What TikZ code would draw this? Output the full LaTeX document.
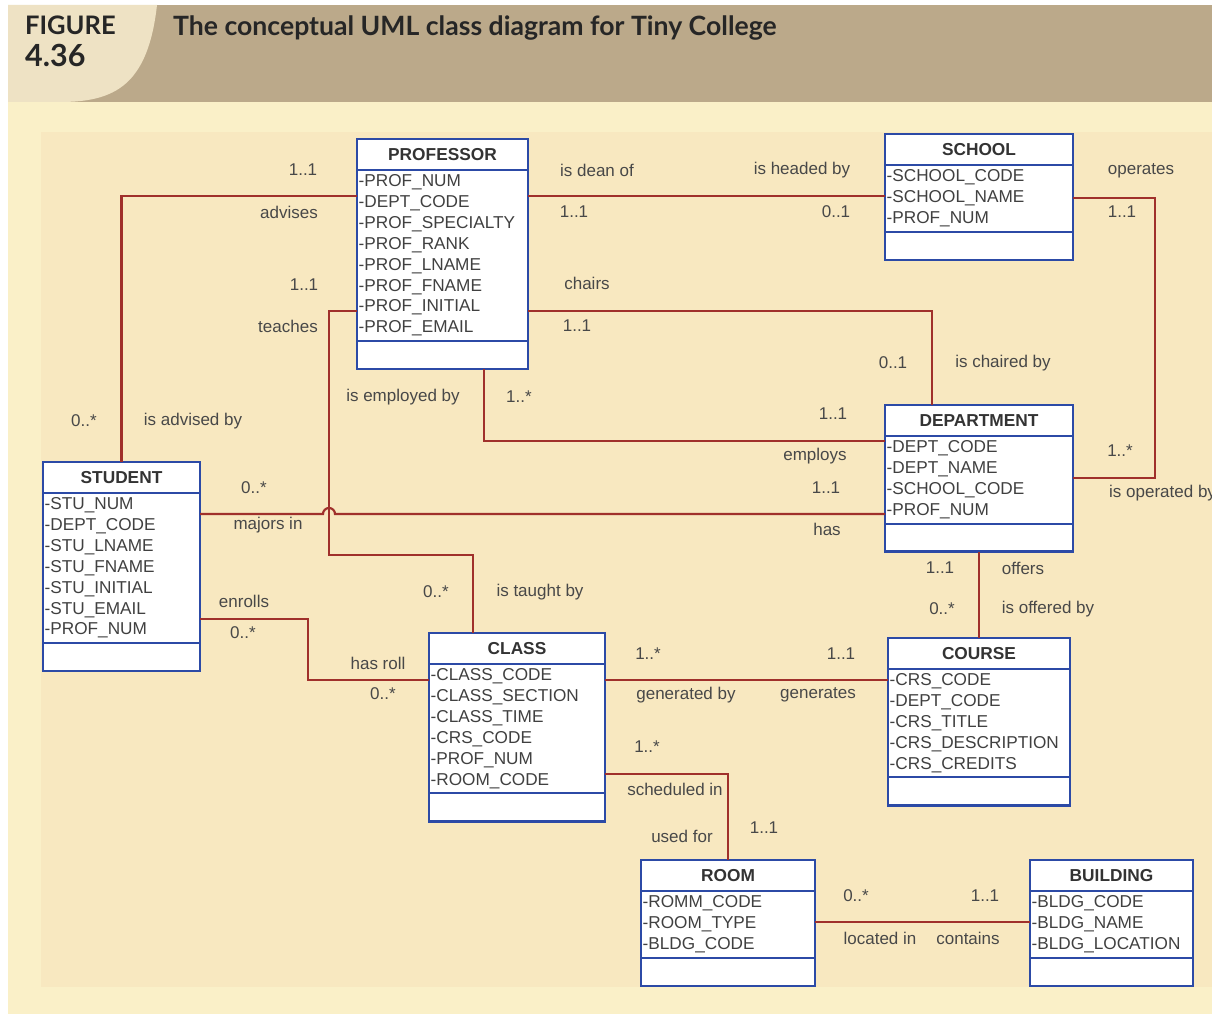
\documentclass[tikz,border=0pt]{standalone}
\usepackage{fontspec}
\setmainfont{Liberation Sans}
\newfontfamily\headfont{Lato}
\usepackage{xcolor}
\definecolor{headtan}{RGB}{187,169,138}
\definecolor{figtab}{RGB}{238,226,196}
\definecolor{pagecream}{RGB}{250,240,200}
\definecolor{panelcream}{RGB}{248,232,192}
\definecolor{linkred}{RGB}{160,48,43}
\definecolor{boxblue}{RGB}{44,74,166}
\definecolor{labelgray}{RGB}{72,72,72}

\tikzset{
  classbox/.style={draw=boxblue, line width=2.4pt, fill=white, inner sep=0pt, outer sep=0pt, anchor=north west},
  classrule/.style={draw=boxblue, line width=2pt},
  classname/.style={font=\fontsize{17.3}{19}\selectfont\bfseries, text=black!80, inner sep=0pt},
  attr/.style={font=\fontsize{17.2}{19}\selectfont, text=black!75, inner sep=0pt, anchor=west},
  link/.style={draw=linkred, line width=2.2pt},
  lbl/.style={font=\fontsize{17}{19}\selectfont, text=labelgray, inner sep=0pt},
}

% one UML class: name, corner, width, number of attributes, title, attributes
\newcommand{\umlclass}[6]{%
  \pgfmathsetmacro{\boxh}{63.14+20.86*#4}
  \pgfmathsetmacro{\attrb}{35.14+20.86*#4}
  \node[classbox, minimum width=#3pt, minimum height=\boxh pt] (#1) at (#2) {};
  \draw[classrule] ([yshift=-31pt]#1.north west) -- ([yshift=-31pt]#1.north east);
  \draw[classrule] ([yshift=-\attrb pt]#1.north west) -- ([yshift=-\attrb pt]#1.north east);
  \node[classname] (#1-name) at ([yshift=-15.5pt]#1.north) {#5};
  \foreach \a [count=\i] in {#6}
    \node[attr] (#1-\i) at ([xshift=1.5pt, yshift=-43.5pt-20.86pt*(\i-1)]#1.north west) {-\a};
}

\begin{document}
\begin{tikzpicture}[x=1pt, y=-1pt]
\useasboundingbox (0,0) rectangle (1212,1014);
\fill[white] (0,0) rectangle (1212,1014);

% page background
\fill[headtan] (8,5) rectangle (1212,102);
\fill[figtab] (8,5) -- (157,5) .. controls (148,85) and (115,102) .. (60,102) -- (8,102) -- cycle;
\fill[pagecream] (8,102) rectangle (1212,1014);
\fill[panelcream] (41,132) rectangle (1212,987);

\node[anchor=base west, inner sep=0pt, font=\headfont\bfseries\fontsize{25.5}{28}\selectfont, text=black!85] (figword) at (25,35) {FIGURE};
\node[anchor=base west, inner sep=0pt, font=\headfont\bfseries\fontsize{30.5}{32}\selectfont, text=black!85] (fignum) at (25,67) {4.36};
\node[anchor=base west, inner sep=0pt, font=\headfont\bfseries\fontsize{26.6}{28}\selectfont, text=black!85] (title) at (173,36) {The conceptual UML class diagram for Tiny College};

% classes
\umlclass{prof}{357,139}{171}{8}{PROFESSOR}{PROF\_NUM, DEPT\_CODE, PROF\_SPECIALTY, PROF\_RANK, PROF\_LNAME, PROF\_FNAME, PROF\_INITIAL, PROF\_EMAIL}
\umlclass{school}{885,134}{188}{3}{SCHOOL}{SCHOOL\_CODE, SCHOOL\_NAME, PROF\_NUM}
\umlclass{dept}{885,405}{188}{4}{DEPARTMENT}{DEPT\_CODE, DEPT\_NAME, SCHOOL\_CODE, PROF\_NUM}
\umlclass{stud}{43,462}{157}{7}{STUDENT}{STU\_NUM, DEPT\_CODE, STU\_LNAME, STU\_FNAME, STU\_INITIAL, STU\_EMAIL, PROF\_NUM}
\umlclass{class}{429,633}{176}{6}{CLASS}{CLASS\_CODE, CLASS\_SECTION, CLASS\_TIME, CRS\_CODE, PROF\_NUM, ROOM\_CODE}
\umlclass{course}{888,638}{182}{5}{COURSE}{CRS\_CODE, DEPT\_CODE, CRS\_TITLE, CRS\_DESCRIPTION, CRS\_CREDITS}
\umlclass{room}{641,860}{174}{3}{ROOM}{ROMM\_CODE, ROOM\_TYPE, BLDG\_CODE}
\umlclass{bldg}{1030,860}{163}{3}{BUILDING}{BLDG\_CODE, BLDG\_NAME, BLDG\_LOCATION}

% bends of the connectors
\coordinate (teachbend) at (329,555);
\coordinate (opbend) at (1155,198);
\coordinate (enrollbend) at (308,680);
\coordinate (hop) at (323,514);

% associations
\draw[link] (prof.west |- 0,196) -| (stud.north);
\draw[link] (prof.west |- 0,311) -| (teachbend) -| ([xshift=44pt]class.north west);
\draw[link] (prof.east |- 0,196) -- (school.west |- 0,196);
\draw[link] (prof.east |- 0,311) -| ([xshift=47pt]dept.north west);
\draw[link] ([xshift=127pt]prof.south west) |- (dept.west |- 0,441);
\draw[link] (school.east |- 0,198) -- (opbend) |- (dept.east |- 0,478);
\draw[link] (stud.east |- 0,514) -- (hop) arc[start angle=180, end angle=360, radius=6] -- (dept.west |- 0,514);
\draw[link] (dept.south) -- (course.north);
\draw[link] (stud.east |- 0,619) -| (enrollbend) -- (class.west |- 0,680);
\draw[link] (class.east |- 0,680) -- (course.west |- 0,680);
\draw[link] (class.east |- 0,774) -| (room.north);
\draw[link] (room.east |- 0,922) -- (bldg.west |- 0,922);

% multiplicities and role names
\foreach \x/\y/\t [count=\i] in {
  303/170/1..1, 289/212/advises, 84/421/0..*, 193/421/is advised by,
  304/285/1..1, 288/326/teaches, 436/592/0..*, 540/592/is taught by,
  597/170/is dean of, 574/212/1..1, 802/170/is headed by, 836/212/0..1,
  587/283/chairs, 577/326/1..1, 893/363/0..1, 1003/363/is chaired by,
  403/397/is employed by, 519/397/1..*, 833/414/1..1, 815/456/employs,
  1141/171/operates, 1122/212/1..1, 1120/451/1..*,
  254/488/0..*, 268/525/majors in, 826/488/1..1, 827/529/has,
  940/568/1..1, 1023/568/offers, 942/609/0..*, 1048/609/is offered by,
  244/601/enrolls, 243/633/0..*, 378/663/has roll, 383/694/0..*,
  648/654/1..*, 841/654/1..1, 686/695/generated by, 818/695/generates,
  647/747/1..*, 675/789/scheduled in, 682/836/used for, 764/828/1..1,
  856/896/0..*, 985/896/1..1, 880/938/located in, 968/938/contains}
  \node[lbl] (lbl-\i) at (\x,\y) {\t};
\node[lbl, anchor=west] (lbl-opby) at (1109,493) {is operated by};
\end{tikzpicture}
\end{document}
